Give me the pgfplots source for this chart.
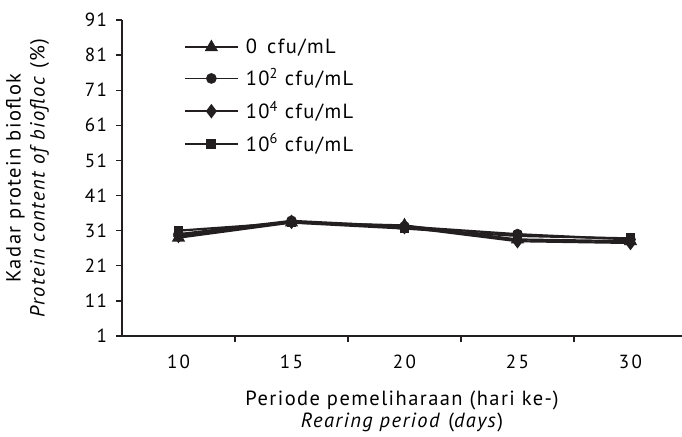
\documentclass[border=0pt]{standalone}
\usepackage{fontspec}
\setmainfont[LetterSpace=7]{PT Sans}
\newfontfamily\spacedfont[LetterSpace=12]{PT Sans}
\usepackage{pgfplots}
\pgfplotsset{compat=1.18}
\definecolor{ink}{HTML}{231F20}

\begin{document}
\fontsize{20.5bp}{24bp}\selectfont
\begin{tikzpicture}
  \useasboundingbox (-122bp,-101bp) rectangle (560bp,336bp);
  \begin{axis}[
    scale only axis,
    width=560bp, height=316bp,
    at={(0,0)}, anchor=south west,
    axis x line*=bottom, axis y line*=left,
    axis line style={ink, line width=1.4bp},
    xmin=-0.5, xmax=4.456,
    ymin=1, ymax=91,
    ytick={1,11,...,91},
    xtick={0,...,4},
    xticklabels={10,15,20,25,30},
    tick label style={font=\fontsize{19bp}{22bp}\selectfont},
    x tick label style={font=\fontsize{19bp}{22bp}\spacedfont, yshift=-6bp},
    major x tick style={draw=none},
    minor xtick={0.5,1.5,2.5,3.5},
    tick style={ink, line width=1.4bp},
    tick align=outside,
    major tick length=6bp, minor tick length=6bp,
    /pgf/number format/assume math mode=true,
    y tick label style={xshift=-2bp},
    xlabel={\begin{tabular}{c}Periode pemeliharaan (hari ke-)\\[-2bp] \textit{Rearing period} (\textit{days})\end{tabular}},
    xlabel style={at={(axis description cs:0.5,0)}, anchor=north, yshift=-52bp, inner sep=0pt},
    ylabel={\begin{tabular}{c}Kadar protein bioflok\\[0bp] \textit{Protein content of biofloc} (\%)\end{tabular}},
    ylabel style={at={(axis description cs:0,0.5)}, anchor=south, yshift=70bp, inner sep=0pt},
    every axis plot/.append style={ink, line width=2.2bp, mark options={solid}},
    legend style={draw=none, fill=none, at={(rel axis cs:0.105,0.955)}, anchor=north west,
      row sep=8bp, font=\fontsize{20.5bp}{24bp}\selectfont},
    legend cell align=left,
    legend image code/.code={\draw[line width=1.8bp] (0bp,0bp) -- (53bp,0bp);
      \draw plot coordinates {(26.5bp,0bp)};},
    legend style={nodes={inner xsep=7bp}},
  ]
    \addplot[mark=triangle*, mark size=5.5bp] coordinates {(0,29.0) (1,33.3) (2,32.5) (3,28.5) (4,28.0)};
    \addplot[mark=*, mark size=4.2bp] coordinates {(0,30.0) (1,33.8) (2,32.2) (3,30.0) (4,28.5)};
    \addplot[mark=diamond*, mark size=5.5bp] coordinates {(0,29.5) (1,33.5) (2,32.0) (3,28.0) (4,27.5)};
    \addplot[mark=square*, mark size=3.8bp] coordinates {(0,31.0) (1,33.3) (2,31.6) (3,29.5) (4,28.8)};
    \legend{0\enspace cfu/mL, 10\textsuperscript{2} cfu/mL, 10\textsuperscript{4} cfu/mL, 10\textsuperscript{6} cfu/mL}
  \end{axis}
\end{tikzpicture}
\end{document}
